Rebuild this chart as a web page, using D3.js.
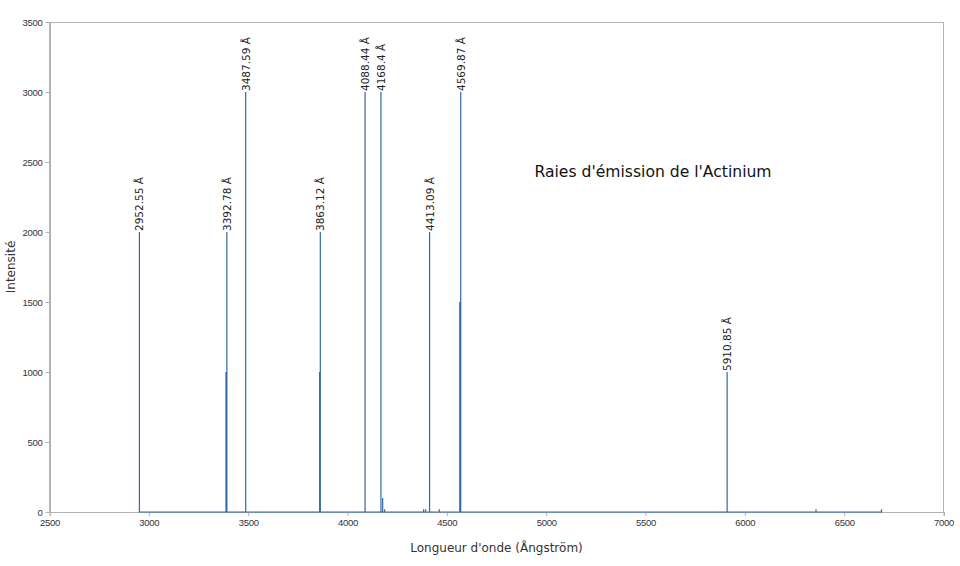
<!DOCTYPE html>
<html>
<head>
<meta charset="utf-8">
<script src="https://d3js.org/d3.v7.min.js"></script>
<style>
body {margin: 0; background: #fff;}
* {font-family: "DejaVu Sans", sans-serif;}
</style>
</head>
<body>
<div id="chart"></div>
<script>
// wavelengths (Angstrom) and intensities of the emission lines
var wavelengths = [2952.55, 3388.4, 3392.78, 3487.59, 3859.8, 3863.12, 4088.44, 4168.4, 4177.0, 4187.0,
	4383.0, 4393.0, 4413.09, 4462.0, 4565.3, 4569.87, 5910.85, 6358.0, 6688.0];
var intensities = [2000, 1000, 2000, 3000, 1000, 2000, 3000, 3000, 100, 20,
	20, 20, 2000, 20, 1500, 3000, 1000, 20, 20];
// the lines that carry a label
var labelled = [2952.55, 3392.78, 3487.59, 3863.12, 4088.44, 4168.4, 4413.09, 4569.87, 5910.85];
var xTicks = [2500, 3000, 3500, 4000, 4500, 5000, 5500, 6000, 6500, 7000];
var yTicks = [0, 500, 1000, 1500, 2000, 2500, 3000, 3500];

var width = 960, height = 566;
var plotLeft = 49.5, plotRight = 943.5, plotTop = 22, plotBottom = 512;

var svg = d3.select("#chart").append("svg")
	.attr("width", width)
	.attr("height", height);

var x = d3.scaleLinear().domain([2500, 7000]).range([plotLeft, plotRight]);
var y = d3.scaleLinear().domain([0, 3500]).range([plotBottom, plotTop]);

// frame
svg.append("rect")
	.attr("x", plotLeft)
	.attr("y", plotTop)
	.attr("width", plotRight - plotLeft)
	.attr("height", plotBottom - plotTop)
	.attr("fill", "none")
	.attr("stroke", "#b3b3b3")
	.attr("stroke-width", 1)
	.attr("shape-rendering", "crispEdges");

var xAxis = svg.append("g")
	.attr("transform", "translate(0," + plotBottom + ")")
	.call(d3.axisBottom(x).tickValues(xTicks).tickSize(4).tickPadding(3).tickFormat(d3.format("d")));
var yAxis = svg.append("g")
	.attr("transform", "translate(" + plotLeft + ",0)")
	.call(d3.axisLeft(y).tickValues(yTicks).tickSize(4).tickPadding(3).tickFormat(d3.format("d")));

[xAxis, yAxis].forEach(function(a){
	a.select(".domain").attr("stroke", "#b3b3b3").attr("shape-rendering", "crispEdges");
	a.selectAll(".tick line").attr("stroke", "#b3b3b3");
	a.selectAll(".tick text")
		.attr("fill", "#333")
		.style("font-family", "'Liberation Sans Narrow', 'Liberation Sans', sans-serif")
		.style("font-size", "9.5px")
		.style("letter-spacing", "-0.3px");
});

// spectrum drawn as one line: up and down at each wavelength
var pts = [];
wavelengths.forEach(function(w, i){
	pts.push([w, 0]);
	pts.push([w, intensities[i]]);
	pts.push([w, 0]);
});

svg.append("path")
	.datum(pts)
	.attr("fill", "none")
	.attr("stroke", "#2f6aa3")
	.attr("stroke-width", 1.2)
	.attr("d", d3.line().x(function(d){ return x(d[0]); }).y(function(d){ return y(d[1]); }));

// labels above the main lines
labelled.forEach(function(w){
	var i = wavelengths.indexOf(w);
	var px = x(w), py = y(intensities[i]);
	svg.append("text")
		.attr("transform", "translate(" + (px + 4) + "," + (py - 1) + ") rotate(-90)")
		.attr("text-anchor", "start")
		.attr("fill", "#222")
		.style("font-size", "10.5px")
		.text(w + " Å");
});

svg.append("text")
	.attr("x", 653)
	.attr("y", 177)
	.attr("text-anchor", "middle")
	.attr("fill", "#111")
	.style("font-size", "15.6px")
	.text("Raies d'émission de l'Actinium");

svg.append("text")
	.attr("transform", "translate(15," + ((plotTop + plotBottom) / 2) + ") rotate(-90)")
	.attr("text-anchor", "middle")
	.attr("fill", "#333")
	.style("font-size", "12px")
	.text("Intensité");

svg.append("text")
	.attr("x", (plotLeft + plotRight) / 2)
	.attr("y", 552)
	.attr("text-anchor", "middle")
	.attr("fill", "#333")
	.style("font-size", "12px")
	.text("Longueur d'onde (Ångström)");
</script>
</body>
</html>
